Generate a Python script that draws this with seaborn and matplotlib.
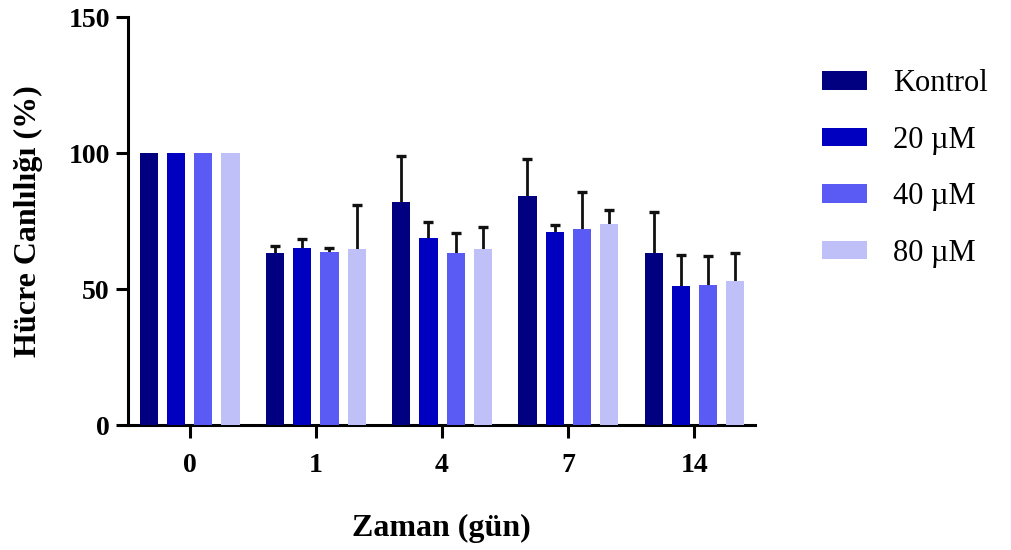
import pandas as pd
import seaborn as sns
import matplotlib.pyplot as plt
import numpy as np

days = ["0", "1", "4", "7", "14"]
groups = ["Kontrol", "20 µM", "40 µM", "80 µM"]
kontrol = [100, 63.1, 82.1, 84.3, 63.4]
um20 = [100, 65.0, 68.9, 71.1, 51.2]
um40 = [100, 63.7, 63.4, 72.1, 51.5]
um80 = [100, 64.7, 64.7, 74.0, 53.1]
sd_kontrol = [0, 2.8, 16.8, 13.4, 14.8]
sd_um20 = [0, 3.6, 5.7, 2.4, 11.5]
sd_um40 = [0, 1.3, 7.3, 13.6, 10.8]
sd_um80 = [0, 16.1, 8.2, 4.9, 10.3]
colors = ["#000080", "#0000C0", "#5A5AF5", "#C0C0F8"]

means = [kontrol, um20, um40, um80]
sds = [sd_kontrol, sd_um20, sd_um40, sd_um80]
df = pd.DataFrame({
    "day": np.tile(days, len(groups)),
    "group": np.repeat(groups, len(days)),
    "value": np.concatenate(means),
})

sns.set_style("ticks", {"text.color": "black", "axes.labelcolor": "black",
                        "xtick.color": "black", "ytick.color": "black",
                        "axes.edgecolor": "black"})
plt.rcParams["font.family"] = ["Liberation Serif", "DejaVu Serif"]

fig = plt.figure(figsize=(10.11, 5.5), dpi=100)
ax = fig.add_axes([0.1266, 0.227, 0.62, 0.742])

sns.barplot(data=df, x="day", y="value", hue="group", order=days, hue_order=groups,
            palette=colors, width=0.86, gap=0.33, errorbar=None, saturation=1,
            linewidth=0, ax=ax, zorder=3)

# error bars sit behind the bars so only the upper half shows
for cont, sd in zip(ax.containers, sds):
    for bar, s in zip(cont, sd):
        if s <= 0:
            continue
        x = bar.get_x() + bar.get_width() / 2
        y = bar.get_height()
        ax.errorbar(x, y, yerr=s, fmt="none", ecolor="#111111", elinewidth=2,
                    capsize=3.6, capthick=2.4, zorder=2)

ax.set_ylim(0, 150)
ax.set_xlim(-0.49, 4.48)
ax.set_yticks([0, 50, 100, 150])
ax.set_xlabel("Zaman (gün)", fontsize=23, fontweight="bold", labelpad=26)
ax.set_ylabel("Hücre Canlılığı (%)", fontsize=23, fontweight="bold", labelpad=18)
ax.tick_params(axis="both", labelsize=20, width=2.2, length=9, color="black",
               labelcolor="black")
ax.tick_params(axis="x", length=9, pad=11)
ax.tick_params(axis="y", pad=4)
for lab in ax.get_xticklabels() + ax.get_yticklabels():
    lab.set_fontweight("bold")
for side in ["left", "bottom"]:
    ax.spines[side].set_linewidth(2.2)
sns.despine(ax=ax)

ax.legend(loc="upper left", bbox_to_anchor=(1.107, 0.872), frameon=False,
          fontsize=22, handlelength=1.47, handleheight=0.55, labelspacing=0.9,
          handletextpad=0.85, borderpad=0, borderaxespad=0)

fig.savefig("out.png", dpi=100)
